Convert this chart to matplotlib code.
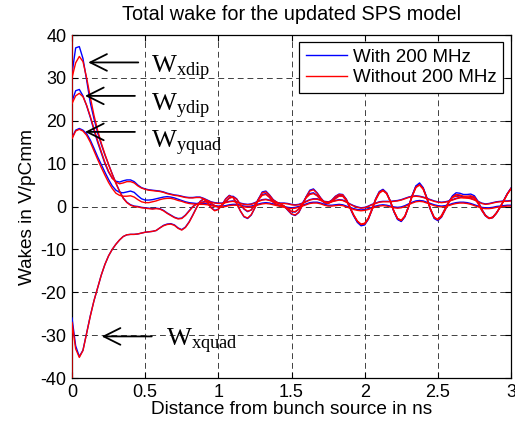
import matplotlib
matplotlib.use("Agg")
import matplotlib.pyplot as plt

plt.rcParams['font.family'] = ['Liberation Sans', 'DejaVu Sans']
plt.rcParams['mathtext.fontset'] = 'custom'
plt.rcParams['mathtext.rm'] = 'Liberation Serif'
plt.rcParams['mathtext.it'] = 'Liberation Serif:italic'
plt.rcParams['axes.unicode_minus'] = False

# ---- data ----
time_ns = [0.0, 0.025, 0.05, 0.075, 0.1, 0.125, 0.15, 0.175, 0.2, 0.225,
           0.25, 0.275, 0.3, 0.325, 0.35, 0.375, 0.4, 0.425, 0.45, 0.475,
           0.5, 0.525, 0.55, 0.575, 0.6, 0.625, 0.65, 0.675, 0.7, 0.725,
           0.75, 0.775, 0.8, 0.825, 0.85, 0.875, 0.9, 0.925, 0.95, 0.975,
           1.0, 1.025, 1.05, 1.075, 1.1, 1.125, 1.15, 1.175, 1.2, 1.225,
           1.25, 1.275, 1.3, 1.325, 1.35, 1.375, 1.4, 1.425, 1.45, 1.475,
           1.5, 1.525, 1.55, 1.575, 1.6, 1.625, 1.65, 1.675, 1.7, 1.725,
           1.75, 1.775, 1.8, 1.825, 1.85, 1.875, 1.9, 1.925, 1.95, 1.975,
           2.0, 2.025, 2.05, 2.075, 2.1, 2.125, 2.15, 2.175, 2.2, 2.225,
           2.25, 2.275, 2.3, 2.325, 2.35, 2.375, 2.4, 2.425, 2.45, 2.475,
           2.5, 2.525, 2.55, 2.575, 2.6, 2.625, 2.65, 2.675, 2.7, 2.725,
           2.75, 2.775, 2.8, 2.825, 2.85, 2.875, 2.9, 2.925, 2.95, 2.975,
           3.0]

wxdip_with = [31.0, 37.0, 37.3, 34.5, 29.5, 24.2, 20.5, 17.2, 14.5, 12.0,
              9.8, 7.6, 5.5, 3.6, 2.0, 1.0, 0.4, 0.1, 0.0, -0.2,
              -0.3, -0.4, -0.5, -0.4, -0.5, -0.9, -1.5, -2.0, -2.5, -2.8,
              -2.7, -2.0, -1.0, 0.0, 0.6, 0.9, 1.1, 1.2, 0.8, 0.2,
              -0.1, 0.3, 1.2, 2.0, 2.4, 1.8, 0.5, -0.6, -1.2, -0.8,
              0.4, 1.8, 2.8, 3.0, 2.2, 1.0, 0.4, 0.2, 0.0, -0.6,
              -1.2, -1.3, -0.6, 0.8, 2.2, 3.0, 3.2, 2.6, 1.6, 0.8,
              0.7, 1.2, 2.0, 2.6, 2.5, 1.4, -0.4, -2.2, -3.7, -4.5,
              -4.3, -3.0, -0.8, 1.6, 3.3, 3.9, 3.1, 1.2, -1.2, -3.0,
              -3.5, -2.4, -0.1, 2.6, 4.8, 5.5, 4.4, 2.0, -0.8, -2.8,
              -3.3, -2.5, -0.8, 1.0, 2.5, 3.2, 3.1, 2.8, 2.8, 2.9,
              2.5, 1.2, -0.6, -2.0, -2.7, -2.5, -1.5, -0.2, 1.4, 3.0,
              4.2]
wxdip_without = [30.0, 33.5, 35.0, 33.8, 30.0, 25.5, 21.3, 17.8, 14.8, 12.2,
                 9.8, 7.5, 5.4, 3.5, 1.9, 0.9, 0.3, 0.0, -0.1, -0.3,
                 -0.4, -0.5, -0.6, -0.5, -0.6, -1.0, -1.6, -2.1, -2.6, -2.9,
                 -2.8, -2.1, -1.1, -0.1, 0.5, 0.8, 1.0, 1.1, 0.7, 0.2,
                 -0.1, 0.3, 1.1, 1.9, 2.2, 1.7, 0.5, -0.5, -1.1, -0.8,
                 0.3, 1.6, 2.6, 2.8, 2.1, 1.0, 0.4, 0.2, 0.0, -0.5,
                 -1.1, -1.2, -0.6, 0.7, 2.0, 2.8, 3.0, 2.5, 1.6, 0.9,
                 0.7, 1.1, 1.8, 2.4, 2.4, 1.4, -0.3, -2.0, -3.4, -4.2,
                 -4.1, -2.9, -0.8, 1.5, 3.1, 3.7, 3.0, 1.2, -1.1, -2.8,
                 -3.3, -2.3, -0.1, 2.4, 4.4, 5.1, 4.2, 1.9, -0.7, -2.6,
                 -3.1, -2.4, -0.8, 0.9, 2.2, 2.8, 2.7, 2.4, 2.4, 2.5,
                 2.2, 1.0, -0.7, -2.1, -2.8, -2.6, -1.6, -0.2, 1.3, 2.9,
                 4.1]

wydip_with = [24.5, 27.0, 27.3, 25.8, 23.5, 20.8, 17.8, 15.0, 12.5, 10.0,
              8.0, 6.6, 5.9, 5.7, 6.0, 6.2, 6.2, 5.8, 5.0, 4.4,
              4.1, 3.9, 3.8, 3.7, 3.6, 3.4, 3.1, 2.9, 2.7, 2.6,
              2.4, 2.2, 2.1, 2.1, 2.2, 2.2, 1.9, 1.5, 1.1, 0.9,
              0.8, 0.8, 1.0, 1.2, 1.3, 1.1, 0.8, 0.6, 0.5, 0.6,
              0.9, 1.3, 1.6, 1.7, 1.5, 1.2, 0.9, 0.8, 0.8, 0.7,
              0.5, 0.4, 0.5, 0.8, 1.2, 1.6, 1.8, 1.8, 1.5, 1.2,
              1.1, 1.2, 1.4, 1.6, 1.5, 1.1, 0.6, 0.2, -0.1, -0.3,
              -0.2, 0.1, 0.5, 0.8, 1.1, 1.2, 1.2, 1.2, 1.3, 1.4,
              1.6, 1.9, 2.2, 2.4, 2.5, 2.4, 2.2, 1.9, 1.6, 1.3,
              1.1, 1.0, 1.1, 1.3, 1.6, 1.9, 2.1, 2.2, 2.1, 1.9,
              1.6, 1.2, 0.8, 0.6, 0.7, 0.9, 1.1, 1.2, 1.3, 1.3,
              1.4]
wydip_without = [24.0, 25.8, 26.4, 25.6, 23.6, 21.0, 18.2, 15.4, 12.8, 10.3,
                 8.2, 6.6, 5.7, 5.3, 5.5, 5.8, 5.8, 5.5, 4.8, 4.3,
                 4.0, 3.8, 3.7, 3.6, 3.5, 3.3, 3.0, 2.8, 2.6, 2.5,
                 2.3, 2.1, 2.0, 2.0, 2.1, 2.1, 1.8, 1.4, 1.0, 0.8,
                 0.7, 0.7, 0.9, 1.1, 1.2, 1.0, 0.7, 0.5, 0.4, 0.5,
                 0.8, 1.2, 1.5, 1.6, 1.4, 1.1, 0.8, 0.7, 0.7, 0.6,
                 0.4, 0.3, 0.4, 0.7, 1.1, 1.5, 1.7, 1.7, 1.4, 1.1,
                 1.0, 1.1, 1.3, 1.5, 1.4, 1.0, 0.5, 0.1, -0.2, -0.4,
                 -0.3, 0.0, 0.4, 0.7, 1.0, 1.1, 1.1, 1.1, 1.2, 1.3,
                 1.5, 1.8, 2.1, 2.3, 2.4, 2.3, 2.1, 1.8, 1.5, 1.2,
                 1.0, 0.9, 1.0, 1.2, 1.5, 1.8, 2.0, 2.1, 2.0, 1.8,
                 1.5, 1.1, 0.7, 0.5, 0.6, 0.8, 1.0, 1.1, 1.2, 1.2,
                 1.3]

wyquad_with = [16.0, 17.8, 18.2, 17.8, 17.0, 15.5, 13.6, 11.6, 9.8, 8.0,
               6.3, 4.8, 3.8, 3.3, 3.2, 3.4, 3.6, 3.3, 2.5, 1.8,
               1.5, 1.5, 1.6, 1.8, 2.0, 2.2, 2.3, 2.2, 2.0, 1.7,
               1.4, 1.1, 0.9, 0.8, 0.7, 0.7, 0.7, 0.6, 0.4, 0.2,
               0.1, 0.1, 0.2, 0.4, 0.5, 0.5, 0.3, 0.1, 0.0, 0.1,
               0.3, 0.6, 0.8, 0.9, 0.8, 0.6, 0.4, 0.2, 0.0, -0.2,
               -0.3, -0.2, 0.0, 0.3, 0.6, 0.9, 1.0, 1.0, 0.8, 0.5,
               0.3, 0.3, 0.4, 0.5, 0.4, 0.1, -0.2, -0.5, -0.7, -0.8,
               -0.7, -0.5, -0.2, 0.1, 0.3, 0.4, 0.3, 0.1, -0.1, -0.2,
               -0.1, 0.2, 0.6, 1.0, 1.3, 1.4, 1.3, 1.0, 0.7, 0.4,
               0.2, 0.1, 0.2, 0.4, 0.7, 0.9, 1.0, 1.0, 0.9, 0.7,
               0.4, 0.1, -0.2, -0.3, -0.3, -0.2, 0.0, 0.1, 0.2, 0.3,
               0.3]
wyquad_without = [15.8, 17.6, 18.0, 17.6, 16.6, 15.0, 13.0, 11.0, 9.1, 7.3,
                  5.6, 4.2, 3.1, 2.6, 2.4, 2.4, 2.5, 2.2, 1.6, 1.1,
                  0.9, 0.9, 1.1, 1.3, 1.6, 1.8, 1.9, 1.9, 1.7, 1.4,
                  1.2, 0.9, 0.7, 0.6, 0.5, 0.5, 0.5, 0.4, 0.2, 0.0,
                  -0.1, -0.1, 0.0, 0.2, 0.3, 0.3, 0.1, -0.1, -0.2, -0.1,
                  0.1, 0.4, 0.6, 0.7, 0.6, 0.4, 0.2, 0.0, -0.2, -0.4,
                  -0.5, -0.4, -0.2, 0.1, 0.4, 0.7, 0.8, 0.8, 0.6, 0.3,
                  0.1, 0.1, 0.2, 0.3, 0.2, -0.1, -0.4, -0.7, -0.9, -1.0,
                  -0.9, -0.7, -0.4, -0.1, 0.1, 0.2, 0.1, -0.1, -0.3, -0.4,
                  -0.3, 0.0, 0.4, 0.8, 1.1, 1.2, 1.1, 0.8, 0.5, 0.2,
                  0.0, -0.1, 0.0, 0.2, 0.5, 0.7, 0.8, 0.8, 0.7, 0.5,
                  0.2, -0.1, -0.4, -0.5, -0.5, -0.4, -0.2, -0.1, 0.0, 0.1,
                  0.1]

wxquad_with = [-26.0, -32.5, -35.0, -33.5, -29.5, -25.5, -22.0, -19.0, -16.0, -13.5,
               -11.5, -10.0, -8.8, -7.8, -7.0, -6.6, -6.5, -6.5, -6.4, -6.2,
               -6.0, -5.9, -5.8, -5.6, -5.0, -4.4, -4.1, -4.0, -4.3, -5.0,
               -5.4, -4.8, -3.6, -2.0, -0.3, 1.2, 1.8, 1.0, -0.2, -0.9,
               -0.6, 0.4, 1.8, 2.6, 2.2, 0.8, -1.0, -2.4, -2.8, -2.0,
               -0.3, 1.8, 3.4, 3.6, 2.7, 1.6, 1.0, 0.6, 0.1, -0.9,
               -1.8, -2.1, -1.4, 0.3, 2.3, 3.8, 4.1, 3.2, 2.0, 1.0,
               0.9, 1.5, 2.4, 2.9, 2.8, 1.7, -0.2, -2.1, -3.6, -4.3,
               -4.1, -2.8, -0.6, 1.8, 3.5, 4.0, 3.2, 1.3, -1.2, -3.0,
               -3.4, -2.3, 0.0, 2.6, 4.7, 5.2, 4.2, 2.0, -0.6, -2.6,
               -3.1, -2.2, -0.5, 1.2, 2.3, 2.7, 2.5, 2.2, 2.1, 2.3,
               2.1, 0.8, -0.9, -2.2, -2.8, -2.6, -1.6, -0.2, 1.4, 3.0,
               4.3]
wxquad_without = [-27.0, -33.2, -35.2, -33.6, -29.6, -25.6, -22.0, -19.0, -16.0, -13.5,
                  -11.5, -10.0, -8.8, -7.8, -7.0, -6.6, -6.5, -6.5, -6.4, -6.2,
                  -6.0, -5.9, -5.8, -5.6, -5.0, -4.5, -4.2, -4.1, -4.4, -5.1,
                  -5.5, -4.9, -3.7, -2.1, -0.4, 1.1, 1.7, 0.9, -0.3, -1.0,
                  -0.7, 0.3, 1.7, 2.5, 2.1, 0.7, -1.0, -2.3, -2.7, -1.9,
                  -0.3, 1.7, 3.2, 3.4, 2.6, 1.5, 1.0, 0.6, 0.1, -0.8,
                  -1.7, -2.0, -1.3, 0.3, 2.2, 3.6, 3.9, 3.1, 1.9, 1.0,
                  0.9, 1.4, 2.3, 2.8, 2.7, 1.6, -0.2, -2.0, -3.4, -4.1,
                  -3.9, -2.7, -0.6, 1.7, 3.3, 3.8, 3.1, 1.3, -1.1, -2.8,
                  -3.2, -2.2, 0.0, 2.5, 4.5, 5.0, 4.0, 1.9, -0.6, -2.5,
                  -3.0, -2.1, -0.5, 1.1, 2.1, 2.4, 2.2, 2.0, 2.0, 2.1,
                  1.9, 0.7, -0.9, -2.1, -2.7, -2.5, -1.5, -0.2, 1.3, 2.9,
                  4.2]

# first sample of the "without" runs at t = 0 (off-scale spike)
without_start = {'wxdip': 50.0, 'wydip': 30.0, 'wyquad': 24.0, 'wxquad': -50.0}

series_labels = ['With 200 MHz', 'Without 200 MHz']
x_ticks = [0, 0.5, 1, 1.5, 2, 2.5, 3]
x_tick_labels = ['0', '0.5', '1', '1.5', '2', '2.5', '3']
y_ticks = [-40, -30, -20, -10, 0, 10, 20, 30, 40]

# ---- figure ----
W, H = 515, 428
fig = plt.figure(figsize=(W / 100, H / 100), dpi=100)
ax_l, ax_r, ax_t, ax_b = 72, 511, 35, 378
ax = fig.add_axes([ax_l / W, 1 - ax_b / H, (ax_r - ax_l) / W, (ax_b - ax_t) / H])

blue = '#0000ff'
red = '#ff0000'
with_sets = [wxdip_with, wydip_with, wyquad_with, wxquad_with]
without_sets = [wxdip_without, wydip_without, wyquad_without, wxquad_without]
start_keys = ['wxdip', 'wydip', 'wyquad', 'wxquad']

for i, ys in enumerate(with_sets):
    ax.plot(time_ns, ys, color=blue, lw=1.0, zorder=3,
            label=series_labels[0] if i == 0 else None)
for i, ys in enumerate(without_sets):
    ax.plot([0.0] + time_ns, [without_start[start_keys[i]]] + ys, color=red,
            lw=1.0, zorder=3.1, label=series_labels[1] if i == 0 else None)

ax.set_xlim(0, 3)
ax.set_ylim(-40, 40)
ax.set_xticks(x_ticks)
ax.set_xticklabels(x_tick_labels)
ax.set_yticks(y_ticks)
ax.grid(True, color='#404040', lw=0.7, ls=(0, (6, 4)))
ax.set_axisbelow(True)
ax.tick_params(direction='in', top=True, right=True, length=4, width=0.8,
               labelsize=13, pad=4, colors='black')
for s in ax.spines.values():
    s.set_linewidth(0.9)

ax.set_title('Total wake for the updated SPS model', fontsize=14.3, pad=11)
ax.set_xlabel('Distance from bunch source in ns', fontsize=13.7, labelpad=0)
ax.set_ylabel('Wakes in V/pCmm', fontsize=13.7, labelpad=3)

leg = ax.legend(loc='upper right', bbox_to_anchor=(0.982, 0.980), borderaxespad=0,
                fontsize=13.5, frameon=True, fancybox=False, framealpha=1,
                edgecolor='black', handlelength=2.2, handletextpad=0.3,
                labelspacing=0.2, borderpad=0.35)
leg.get_frame().set_linewidth(0.9)

# annotations (arrows + labels)
annotations = [
    (r'$\mathregular{W_{xdip}}$', 0.111, 0.453, 33.6, 0.538, 31.1),
    (r'$\mathregular{W_{ydip}}$', 0.089, 0.43, 25.8, 0.538, 22.2),
    (r'$\mathregular{W_{yquad}}$', 0.089, 0.43, 17.4, 0.538, 13.6),
    (r'$\mathregular{W_{xquad}}$', 0.203, 0.545, -30.3, 0.645, -32.7),
]
for txt, tip_x, tail_x, ay, tx, ty in annotations:
    ax.annotate('', xy=(tip_x, ay), xytext=(tail_x, ay),
                arrowprops=dict(arrowstyle='->,head_length=1.2,head_width=0.6',
                                color='black', lw=1.3, shrinkA=0, shrinkB=0,
                                mutation_scale=10), zorder=5)
    ax.text(tx, ty, txt, fontsize=19, va='baseline', ha='left', color='black',
            family='Liberation Serif', zorder=5)

fig.savefig('out.png', dpi=100)
